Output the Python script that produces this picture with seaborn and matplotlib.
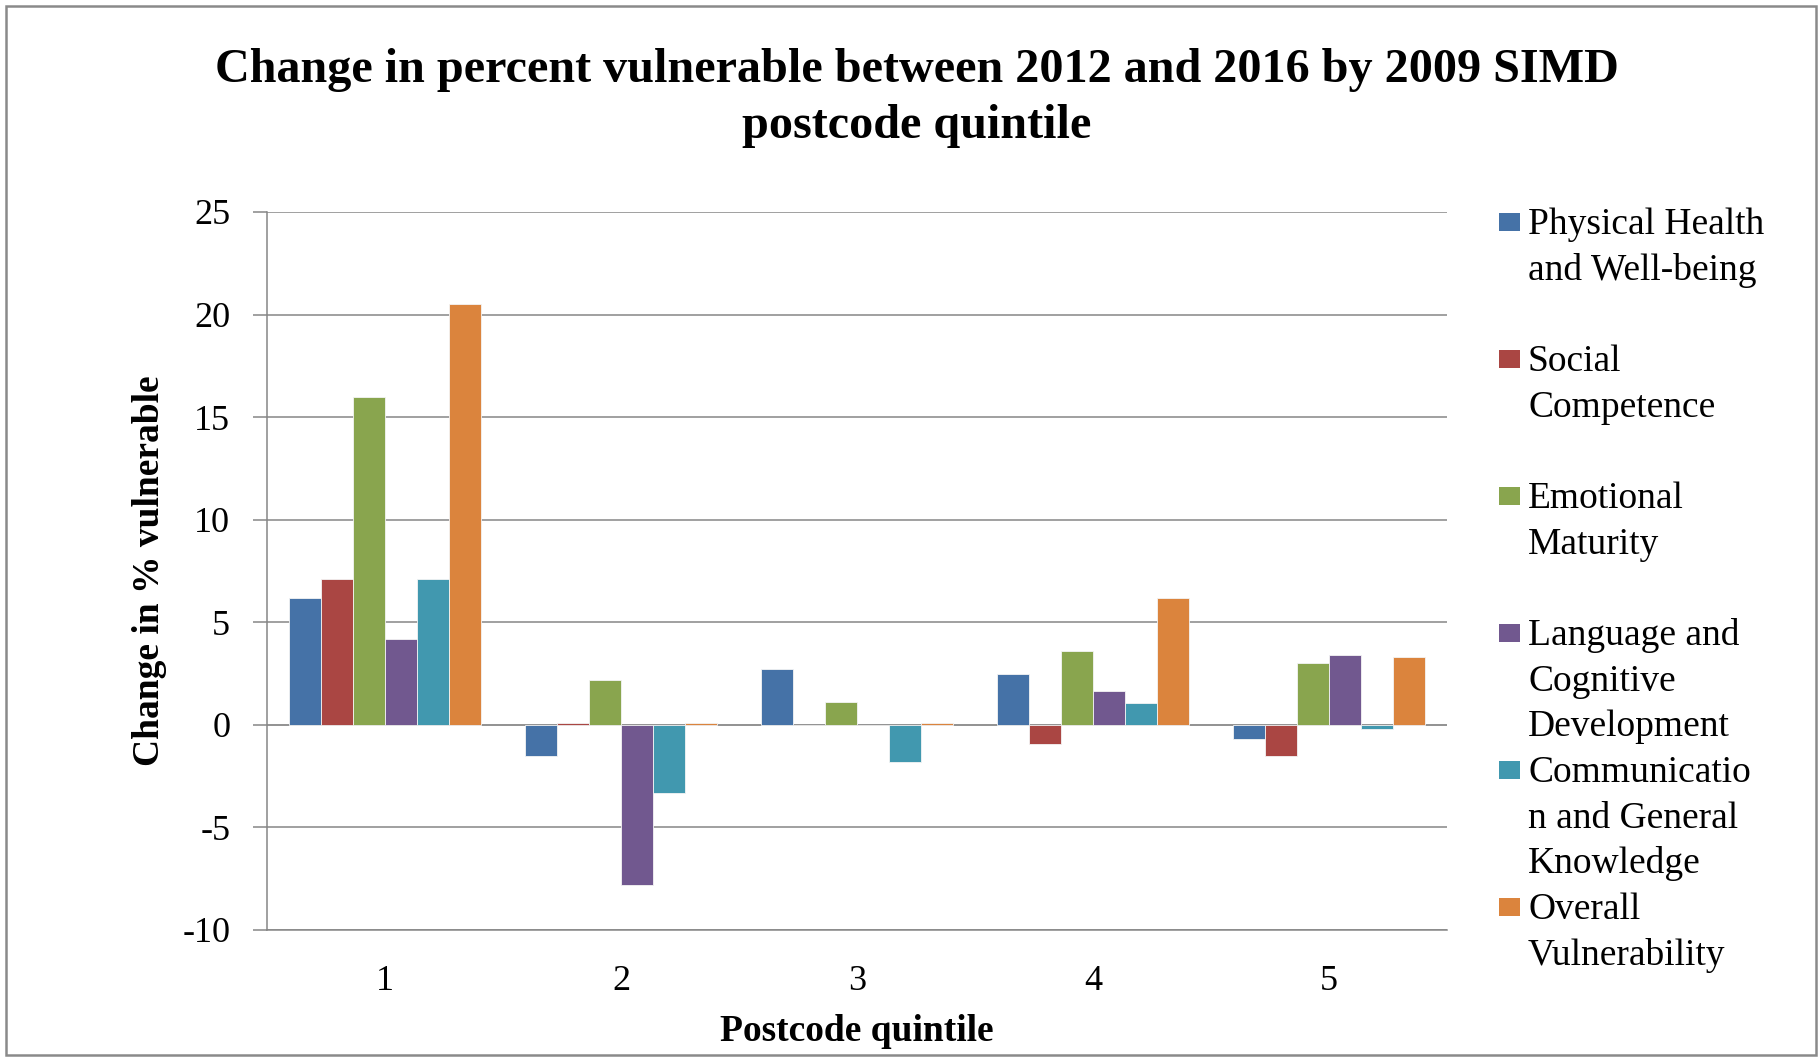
import matplotlib
matplotlib.use("Agg")
import matplotlib.pyplot as plt
from matplotlib.patches import Rectangle
import numpy as np
import pandas as pd
import seaborn as sns

# ---- data -------------------------------------------------------------
quintiles = ["1", "2", "3", "4", "5"]
domains = [
    "Physical Health\nand Well-being",
    "Social\nCompetence",
    "Emotional\nMaturity",
    "Language and\nCognitive\nDevelopment",
    "Communicatio\nn and General\nKnowledge",
    "Overall\nVulnerability",
]
physical_health = [6.2, -1.5, 2.7, 2.5, -0.7]
social_competence = [7.1, 0.1, 0.0, -0.95, -1.5]
emotional_maturity = [16.0, 2.2, 1.1, 3.6, 3.0]
language_cognitive = [4.2, -7.8, 0.0, 1.65, 3.4]
communication_knowledge = [7.1, -3.3, -1.8, 1.05, -0.2]
overall_vulnerability = [20.5, 0.1, 0.1, 6.2, 3.3]
yticks = [-10, -5, 0, 5, 10, 15, 20, 25]

colors = ["#4572A7", "#AA4643", "#89A54E", "#71588F", "#4198AF", "#DB843D"]

series = [physical_health, social_competence, emotional_maturity,
          language_cognitive, communication_knowledge, overall_vulnerability]
df = pd.DataFrame({
    "quintile": np.tile(quintiles, len(domains)),
    "domain": np.repeat(domains, len(quintiles)),
    "change": np.concatenate(series),
})

# ---- style ------------------------------------------------------------
sns.set_theme(style="white")
plt.rcParams["font.family"] = ["Liberation Serif", "DejaVu Serif"]

W, H = 1818, 1057
fig = plt.figure(figsize=(W / 100, H / 100), dpi=100)
fig.patch.set_facecolor("white")


def fx(px):
    return px / W


def fy(py):
    return 1 - py / H


left, right, top, bottom = 267, 1447, 212, 930
ax = fig.add_axes([fx(left), fy(bottom), fx(right - left), (bottom - top) / H])

grid_c = "#868686"
ax.set_axisbelow(True)
ax.yaxis.grid(True, color=grid_c, linewidth=1.1)
ax.axhline(0, color="#c4c4c4", linewidth=1.4, zorder=0.5)

sns.barplot(data=df, x="quintile", y="change", hue="domain",
            order=quintiles, hue_order=domains, palette=colors,
            saturation=1, width=0.81, gap=0, errorbar=None, legend=False,
            edgecolor="#f4f4f4", linewidth=0.6, ax=ax)

ax.set_ylim(-10, 25)
ax.set_xlim(-0.5, 4.5)
ax.set_yticks(yticks)
ax.set_yticklabels([str(t) for t in yticks])

for s in ["top", "right"]:
    ax.spines[s].set_visible(False)
ax.spines["left"].set_color(grid_c)
ax.spines["left"].set_linewidth(1.1)
ax.spines["bottom"].set_color(grid_c)
ax.spines["bottom"].set_linewidth(1.1)

ax.tick_params(axis="y", which="major", length=10, width=1.1, color=grid_c,
               pad=16.5, labelsize=26, labelcolor="black", left=True)
ax.tick_params(axis="x", which="major", length=0, pad=25, labelsize=26,
               labelcolor="black")

ax.set_xlabel("Postcode quintile", fontsize=27, fontweight="bold", color="black")
ax.xaxis.set_label_coords(0.5, -0.117)
ax.set_ylabel("Change in % vulnerable", fontsize=27, fontweight="bold", color="black")
ax.yaxis.set_label_coords(-0.0847, 0.5)

# ---- title ------------------------------------------------------------
title_lines = ["Change in percent vulnerable between 2012 and 2016 by 2009 SIMD",
               "postcode quintile"]
for j, line in enumerate(title_lines):
    fig.text(fx(917), fy(81.7 + 56 * j), line, ha="center", va="baseline",
             fontsize=34.7, fontweight="bold", color="black")

# ---- legend -----------------------------------------------------------
entry_step, line_step = 137, 45.7
for i, (label, col) in enumerate(zip(domains, colors)):
    y0 = 213 + entry_step * i
    fig.patches.append(Rectangle((fx(1499), fy(y0 + 18)), fx(21), 18 / H,
                                 facecolor=col, edgecolor="none",
                                 transform=fig.transFigure, figure=fig))
    for j, line in enumerate(label.split("\n")):
        fig.text(fx(1528), fy(234 + entry_step * i + line_step * j), line,
                 ha="left", va="baseline", fontsize=27, color="black")

# ---- outer frame ------------------------------------------------------
fig.patches.append(Rectangle((fx(6), fy(1055)), fx(1816 - 6), (1055 - 6) / H,
                             facecolor="none", edgecolor="#8a8a8a", linewidth=1.8,
                             transform=fig.transFigure, figure=fig))

fig.savefig("out.png", dpi=100)
